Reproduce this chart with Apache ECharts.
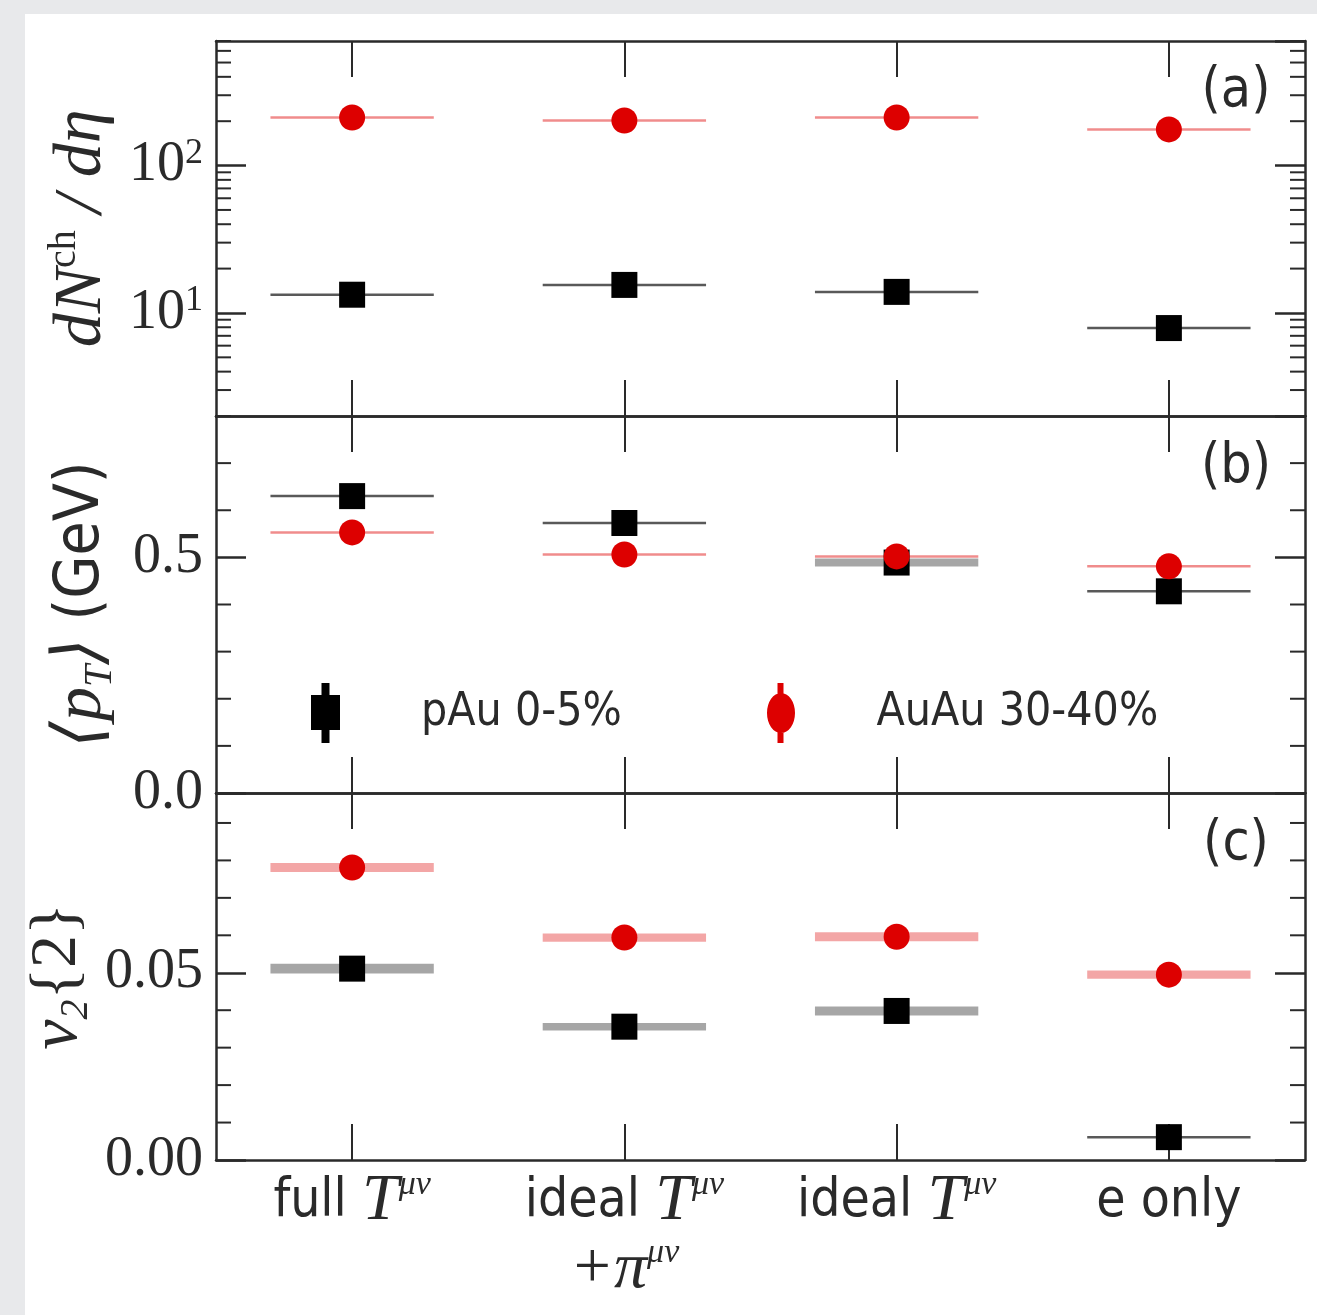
<!DOCTYPE html>
<html><head><meta charset="utf-8">
<script src="https://cdn.jsdelivr.net/npm/echarts@6/dist/echarts.min.js"></script>
<style>
html,body{margin:0;padding:0;background:#e8e9eb;}
#wrap{position:relative;width:1317px;height:1315px;}
#paper{position:absolute;left:25px;top:14px;right:0;bottom:0;background:#fff;}
#chart{position:absolute;left:0;top:0;width:1317px;height:1315px;}
</style></head><body>
<div id="wrap"><div id="paper"></div><div id="chart"></div></div>
<script>
// ---------- data ----------
const categories = ['full', 'ideal+pi', 'ideal', 'e only'];
const categoryLabels = [
  '{s|full }{i|T}{sup|μν}',
  '{s|ideal }{i|T}{sup|μν}\n{i|+π}{sup|μν}',
  '{s|ideal }{i|T}{sup|μν}',
  '{s|e only}'
];
const seriesNames = ['pAu 0-5%', 'AuAu 30-40%'];
const panelTags = ['(a)', '(b)', '(c)'];

const dNdeta_pAu  = [13.3, 15.5, 13.9, 7.9];
const dNdeta_AuAu = [212, 202, 212, 176];
const dNdeta_pAu_err  = [0.2, 0.2, 0.2, 0.15];
const dNdeta_AuAu_err = [2, 2, 2, 2];

const meanPt_pAu  = [0.630, 0.573, 0.489, 0.428];
const meanPt_AuAu = [0.553, 0.506, 0.502, 0.481];
const meanPt_pAu_err  = [0.002, 0.002, 0.0085, 0.002];
const meanPt_AuAu_err = [0.002, 0.002, 0.003, 0.002];

const v2_pAu  = [0.0511, 0.0356, 0.0398, 0.0061];
const v2_AuAu = [0.0781, 0.0594, 0.0596, 0.0495];
const v2_pAu_err  = [0.0013, 0.0010, 0.0012, 0.0004];
const v2_AuAu_err = [0.0012, 0.0011, 0.0012, 0.0011];

const dNMinorTicks = [2,3,4,5,6,7,8,9,20,30,40,50,60,70,80,90,200,300,400,500,600,700];
const ptMinorTicks = [0.1,0.2,0.3,0.4,0.6,0.7];
const v2MinorTicks = [0.01,0.02,0.03,0.04,0.06,0.07,0.08,0.09];

// ---------- style ----------
const SANS = "'DejaVu Sans Condensed','DejaVu Sans','Liberation Sans',sans-serif";
const SERIF = "'Liberation Serif','DejaVu Serif',serif";
const INK = '#2a2a2a';
const BLACK = '#000000';
const RED = '#dd0000';

const chart = echarts.init(document.getElementById('chart'), null, {renderer: 'canvas'});

const grids = [
  {left: 216, right: 12, top: 41, height: 375},
  {left: 216, right: 12, top: 416, height: 377},
  {left: 216, right: 12, top: 793, height: 367}
];

const axisLineStyle = {color: INK, width: 2.5};
const tickStyle = {color: INK, width: 2};

const nameRich = {
  i: {fontFamily: SERIF, fontStyle: 'italic', fontSize: 68, lineHeight: 76, color: INK},
  up: {fontFamily: SERIF, fontSize: 40, verticalAlign: 'top', lineHeight: 76, color: INK},
  sub: {fontFamily: SERIF, fontStyle: 'italic', fontSize: 40, verticalAlign: 'bottom', lineHeight: 76, color: INK},
  s: {fontFamily: SANS, fontSize: 62, lineHeight: 76, color: INK}
};

const xAxes = [];
for (let g = 0; g < 3; g++) {
  const base = {
    type: 'category', gridIndex: g, data: categories, boundaryGap: true,
    axisLine: {show: true, onZero: false, lineStyle: axisLineStyle},
    axisTick: {show: true, inside: true, length: 36, alignWithLabel: true, lineStyle: tickStyle},
    splitLine: {show: false}
  };
  xAxes.push(Object.assign({}, base, {
    position: 'bottom',
    axisLabel: g === 2 ? {
      show: true, interval: 0, margin: 8,
      formatter: (v, i) => categoryLabels[i],
      color: INK,
      rich: {
        s: {fontFamily: SANS, fontSize: 53, lineHeight: 68, color: INK},
        i: {fontFamily: SERIF, fontStyle: 'italic', fontSize: 66, lineHeight: 68, color: INK},
        sup: {fontFamily: SERIF, fontStyle: 'italic', fontSize: 34, verticalAlign: 'top', lineHeight: 68, color: INK}
      }
    } : {show: false}
  }));
  xAxes.push(Object.assign({}, base, {position: 'top', axisLabel: {show: false}}));
}

function yPair(g, cfg, labelCfg, nameCfg) {
  const common = Object.assign({
    gridIndex: g,
    axisLine: {show: true, onZero: false, lineStyle: axisLineStyle},
    axisTick: {show: true, inside: true, length: 30, lineStyle: {color: INK, width: 2.5}},
    splitLine: {show: false},
    minorTick: {show: false}
  }, cfg);
  const left = Object.assign({}, common, {
    position: 'left',
    axisLabel: Object.assign({show: true, margin: 13, color: INK, fontFamily: SERIF, fontSize: 56}, labelCfg)
  }, nameCfg);
  const right = Object.assign({}, common, {position: 'right', axisLabel: {show: false}});
  return [left, right];
}

const yAxes = [].concat(
  yPair(0, {type: 'log', logBase: 10, min: 2, max: 700},
    {
      showMinLabel: false, showMaxLabel: false,
      formatter: v => {
        const e = Math.log10(v);
        if (Math.abs(e - Math.round(e)) > 1e-6) return '';
        return '{n|10}{e|' + Math.round(e) + '}';
      },
      rich: {
        n: {fontFamily: SERIF, fontSize: 56, color: INK, lineHeight: 60},
        e: {fontFamily: SERIF, fontSize: 36, color: INK, verticalAlign: 'top', lineHeight: 60}
      }
    },
    {
      name: '{i|dN}{up|ch}{i| / dη}', nameLocation: 'middle', nameGap: 96, nameRotate: 90, nameMoveOverlap: false,
      nameTextStyle: {fontFamily: SERIF, fontSize: 64, color: INK, rich: nameRich}
    }),
  yPair(1, {type: 'value', min: 0, max: 0.8, interval: 0.5},
    {showMaxLabel: false, formatter: v => v.toFixed(1)},
    {
      name: '{i|⟨p}{sub|T}{i|⟩}{s| (GeV)}', nameLocation: 'middle', nameGap: 96, nameRotate: 90, nameMoveOverlap: false,
      nameTextStyle: {fontFamily: SERIF, fontSize: 64, color: INK, rich: nameRich}
    }),
  yPair(2, {type: 'value', min: 0, max: 0.098, interval: 0.05},
    {showMaxLabel: false, formatter: v => v.toFixed(2)},
    {
      name: '{i|v}{sub|2}{2}', nameLocation: 'middle', nameGap: 120, nameRotate: 90, nameMoveOverlap: false,
      nameTextStyle: {fontFamily: SERIF, fontSize: 66, color: INK, rich: nameRich}
    })
);

function minorTickSeries(g, values) {
  return {
    type: 'custom', xAxisIndex: 2 * g, yAxisIndex: 2 * g, silent: true, clip: false, z: 6,
    data: values.map(v => [0, v]),
    renderItem: (params, api) => {
      const cs = params.coordSys;
      const y = api.coord([0, api.value(1)])[1];
      return {type: 'group', children: [
        {type: 'line', shape: {x1: cs.x, y1: y, x2: cs.x + 15, y2: y}, style: {stroke: INK, lineWidth: 2}},
        {type: 'line', shape: {x1: cs.x + cs.width - 15, y1: y, x2: cs.x + cs.width, y2: y}, style: {stroke: INK, lineWidth: 2}}
      ]};
    }
  };
}

function bandSeries(g, values, errs, color, thinOpacity) {
  return {
    type: 'custom', xAxisIndex: 2 * g, yAxisIndex: 2 * g, silent: true, z: 3,
    data: values.map((v, i) => [i, v, errs[i]]),
    renderItem: (params, api) => {
      const i = api.value(0), v = api.value(1), e = api.value(2);
      const c = api.coord([i, v]);
      const hw = api.size([1, 0])[0] * 0.3;
      const yTop = api.coord([i, v + e])[1];
      const yBot = api.coord([i, v - e])[1];
      const h = Math.abs(yBot - yTop);
      if (h < 4) {
        return {type: 'line', shape: {x1: c[0] - hw, y1: c[1], x2: c[0] + hw, y2: c[1]},
          style: {stroke: color, opacity: thinOpacity, lineWidth: 2.5}};
      }
      return {type: 'rect', shape: {x: c[0] - hw, y: Math.min(yTop, yBot), width: 2 * hw, height: h},
        style: {fill: color, opacity: 0.35}};
    }
  };
}

function markerSeries(g, values, name, symbol, color, z) {
  return {
    type: 'scatter', name: name, xAxisIndex: 2 * g, yAxisIndex: 2 * g, silent: true,
    data: values.map((v, i) => [i, v]),
    symbol: symbol, symbolSize: 26, itemStyle: {color: color, opacity: 1}, z: z
  };
}

const series = [
  bandSeries(0, dNdeta_pAu, dNdeta_pAu_err, BLACK, 0.65),
  bandSeries(0, dNdeta_AuAu, dNdeta_AuAu_err, RED, 0.45),
  markerSeries(0, dNdeta_pAu, seriesNames[0], 'rect', BLACK, 4),
  markerSeries(0, dNdeta_AuAu, seriesNames[1], 'circle', RED, 5),
  bandSeries(1, meanPt_pAu, meanPt_pAu_err, BLACK, 0.65),
  bandSeries(1, meanPt_AuAu, meanPt_AuAu_err, RED, 0.45),
  markerSeries(1, meanPt_pAu, seriesNames[0], 'rect', BLACK, 4),
  markerSeries(1, meanPt_AuAu, seriesNames[1], 'circle', RED, 5),
  bandSeries(2, v2_pAu, v2_pAu_err, BLACK, 0.65),
  bandSeries(2, v2_AuAu, v2_AuAu_err, RED, 0.45),
  markerSeries(2, v2_pAu, seriesNames[0], 'rect', BLACK, 4),
  markerSeries(2, v2_AuAu, seriesNames[1], 'circle', RED, 5),
  minorTickSeries(0, dNMinorTicks),
  minorTickSeries(1, ptMinorTicks),
  minorTickSeries(2, v2MinorTicks)
];

const ICON_SQ = 'path://M10.5,0 L18.5,0 L18.5,12 L29,12 L29,47 L18.5,47 L18.5,60 L10.5,60 L10.5,47 L0,47 L0,12 L10.5,12 Z';
const ICON_CI = 'path://M11,0 L17,0 L17,60 L11,60 Z M0.5,30 A14,20 0 1,1 28.5,30 A14,20 0 1,1 0.5,30 Z';

const legendText = {fontFamily: SANS, fontSize: 46, color: INK, padding: [0, 0, 0, 76]};
const legends = [
  {left: 306, top: 678, itemWidth: 29, itemHeight: 60, selectedMode: false, orient: 'horizontal',
   data: [{name: seriesNames[0], icon: ICON_SQ}], textStyle: legendText},
  {left: 762, top: 678, itemWidth: 29, itemHeight: 60, selectedMode: false, orient: 'horizontal',
   data: [{name: seriesNames[1], icon: ICON_CI}], textStyle: legendText}
];

const tagY = [92, 468, 845];
const graphic = panelTags.map((t, k) => ({
  type: 'text', x: 1236, y: tagY[k], z: 10,
  style: {text: t, fontFamily: SANS, fontSize: 55, fill: INK, align: 'center', verticalAlign: 'middle'}
}));

chart.setOption({
  animation: false,
  backgroundColor: 'transparent',
  grid: grids,
  xAxis: xAxes,
  yAxis: yAxes,
  legend: legends,
  graphic: graphic,
  series: series
});
</script>
</body></html>
